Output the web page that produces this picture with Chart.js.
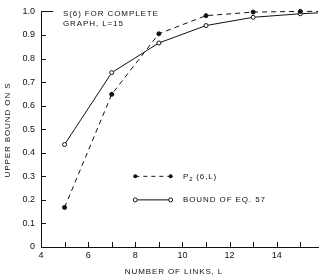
<!DOCTYPE html>
<html>
<head>
<meta charset="utf-8">
<script src="https://cdn.jsdelivr.net/npm/chart.js@4"></script>
<style>
html, body { margin: 0; padding: 0; background: #fff; }
canvas { display: block; }
</style>
</head>
<body>
<canvas id="chart" width="323" height="278"></canvas>
<script>
// number of links L (16 only carries the line off the right edge)
var links = [5, 7, 9, 11, 13, 15, 16];
// P2(6,L), dashed with filled dots
var p2 = [0.168, 0.648, 0.905, 0.982, 0.997, 1.0, 1.0];
// bound of eq. 57, solid with open circles
var bound = [0.435, 0.74, 0.866, 0.94, 0.975, 0.99, 0.995];
var xTickLabels = [4, 6, 8, 10, 12, 14];
var yTickLabels = [0, 0.1, 0.2, 0.3, 0.4, 0.5, 0.6, 0.7, 0.8, 0.9, 1.0];

var ink = '#111';
var textFont = '8px "Liberation Sans", sans-serif';

function toPoints(xs, ys) {
  return xs.map(function (x, i) { return { x: x, y: ys[i] }; });
}
function radii(xs) {
  return xs.map(function (x) { return x > 15 ? 0 : 2; });
}

var extras = {
  id: 'extras',
  afterDraw: function (c) {
    var ctx = c.ctx;
    var xs = c.scales.x, ys = c.scales.y;
    var area = c.chartArea;
    ctx.save();
    ctx.strokeStyle = ink;
    ctx.fillStyle = ink;
    ctx.lineWidth = 1;

    // inward tick marks
    for (var v = 5; v <= 15; v++) {
      var px = Math.round(xs.getPixelForValue(v)) + 0.5;
      ctx.beginPath();
      ctx.moveTo(px, area.bottom);
      ctx.lineTo(px, area.bottom - 5);
      ctx.stroke();
    }
    yTickLabels.forEach(function (t) {
      if (t === 0) return;
      var py = Math.round(ys.getPixelForValue(t)) + 0.5;
      ctx.beginPath();
      ctx.moveTo(area.left, py);
      ctx.lineTo(area.left + (t === 1.0 ? 12 : 5), py);
      ctx.stroke();
    });

    // annotation
    ctx.font = textFont;
    ctx.letterSpacing = '0.9px';
    ctx.textBaseline = 'middle';
    ctx.textAlign = 'left';
    ctx.fillText('S(6) FOR COMPLETE', 63, 13.5);
    ctx.fillText('GRAPH, L=15', 63, 24);

    // legend
    var lx0 = xs.getPixelForValue(8), lx1 = xs.getPixelForValue(9.5);
    var r1 = ys.getPixelForValue(0.3), r2 = ys.getPixelForValue(0.2);
    ctx.setLineDash([4, 4]);
    ctx.beginPath(); ctx.moveTo(lx0, r1); ctx.lineTo(lx1, r1); ctx.stroke();
    ctx.setLineDash([]);
    ctx.beginPath(); ctx.moveTo(lx0, r2); ctx.lineTo(lx1, r2); ctx.stroke();
    [lx0, lx1].forEach(function (px) {
      ctx.beginPath(); ctx.arc(px, r1, 2, 0, Math.PI * 2); ctx.fill();
      ctx.beginPath(); ctx.arc(px, r2, 2, 0, Math.PI * 2);
      ctx.fillStyle = '#fff'; ctx.fill(); ctx.stroke(); ctx.fillStyle = ink;
    });
    ctx.fillText('P', 183, r1);
    var pw = ctx.measureText('P').width;
    ctx.font = '6px "Liberation Sans", sans-serif';
    ctx.fillText('2', 183 + pw, r1 + 3);
    ctx.font = textFont;
    ctx.fillText('(6,L)', 183 + pw + 7, r1);
    ctx.fillText('BOUND OF EQ. 57', 183, r2);

    // axis titles
    ctx.textAlign = 'center';
    ctx.fillText('NUMBER OF LINKS, L', 174, 271.5);
    ctx.translate(7.5, 130);
    ctx.rotate(-Math.PI / 2);
    ctx.fillText('UPPER BOUND ON S', 0, 0);
    ctx.restore();
  }
};

new Chart(document.getElementById('chart'), {
  type: 'scatter',
  data: {
    datasets: [
      {
        label: 'P2 (6,L)',
        data: toPoints(links, p2),
        showLine: true,
        borderColor: ink,
        borderWidth: 1,
        borderDash: [5, 4],
        pointBackgroundColor: ink,
        pointBorderColor: ink,
        pointRadius: radii(links),
        tension: 0
      },
      {
        label: 'BOUND OF EQ. 57',
        data: toPoints(links, bound),
        showLine: true,
        borderColor: ink,
        borderWidth: 1,
        pointBackgroundColor: '#fff',
        pointBorderColor: ink,
        pointBorderWidth: 1,
        pointRadius: radii(links),
        tension: 0
      }
    ]
  },
  options: {
    responsive: false,
    animation: false,
    clip: { left: false, top: false, right: 0, bottom: false },
    layout: { padding: { top: 10, right: 0, left: 0, bottom: 0 } },
    plugins: { legend: { display: false }, tooltip: { enabled: false } },
    scales: {
      x: {
        type: 'linear',
        min: 4,
        max: 15.75,
        afterFit: function (s) { s.height = 31; },
        grid: { drawOnChartArea: false, drawTicks: false },
        border: { color: ink, width: 1 },
        ticks: {
          stepSize: 1,
          padding: 3,
          color: ink,
          font: { family: '"Liberation Sans", sans-serif', size: 9 },
          maxRotation: 0,
          autoSkip: false,
          callback: function (v) { return xTickLabels.indexOf(v) >= 0 ? String(v) : ''; }
        }
      },
      y: {
        min: 0,
        max: 1,
        afterFit: function (s) { s.width = 41; },
        grid: { drawOnChartArea: false, drawTicks: false },
        border: { color: ink, width: 1 },
        ticks: {
          stepSize: 0.1,
          padding: 6,
          color: ink,
          font: { family: '"Liberation Sans", sans-serif', size: 9 },
          callback: function (v) { return v === 0 ? '0' : v.toFixed(1); }
        }
      }
    }
  },
  plugins: [extras]
});
</script>
</body>
</html>
